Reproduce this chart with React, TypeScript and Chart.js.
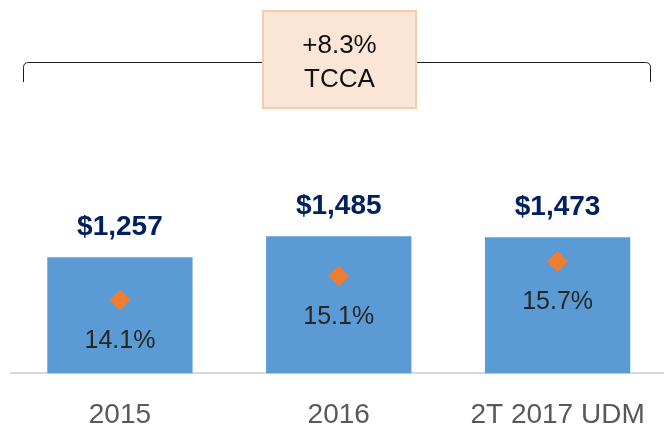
import React, { useEffect, useRef } from "react";
import { Chart, registerables } from "chart.js";

Chart.register(...registerables);

const categories = ["2015", "2016", "2T 2017 UDM"];
const revenue = [1257, 1485, 1473];
const margin = [14.1, 15.1, 15.7];
const revenueLabels = ["$1,257", "$1,485", "$1,473"];
const marginLabels = ["14.1%", "15.1%", "15.7%"];
const cagrLines = ["+8.3%", "TCCA"];

const FONT = "'Liberation Sans', Arial, sans-serif";

const overlayPlugin = {
  id: "overlay",
  afterDatasetsDraw(chart: any) {
    const ctx = chart.ctx as CanvasRenderingContext2D;
    const barMeta = chart.getDatasetMeta(0);
    const ptMeta = chart.getDatasetMeta(1);
    ctx.save();
    ctx.textAlign = "center";
    ctx.textBaseline = "middle";

    ctx.font = `bold 28px ${FONT}`;
    ctx.fillStyle = "#002060";
    barMeta.data.forEach((el: any, i: number) => {
      ctx.fillText(revenueLabels[i], el.x, el.y - 30);
    });

    ctx.font = `25px ${FONT}`;
    ctx.fillStyle = "#262626";
    ptMeta.data.forEach((el: any, i: number) => {
      ctx.fillText(marginLabels[i], el.x, el.y + 41);
    });

    // bracket
    const bl = 23.5, br = 650.5, by = 62.5, bb = 82, r = 5;
    ctx.strokeStyle = "#1a1a1a";
    ctx.lineWidth = 1;
    ctx.beginPath();
    ctx.moveTo(bl, bb);
    ctx.lineTo(bl, by + r);
    ctx.quadraticCurveTo(bl, by, bl + r, by);
    ctx.lineTo(br - r, by);
    ctx.quadraticCurveTo(br, by, br, by + r);
    ctx.lineTo(br, bb);
    ctx.stroke();

    // box
    const bx = 263, bw = 153, byy = 11, bh = 97;
    ctx.fillStyle = "#FBE5D6";
    ctx.fillRect(bx, byy, bw, bh);
    ctx.strokeStyle = "#F8CBAD";
    ctx.lineWidth = 2;
    ctx.strokeRect(bx, byy, bw, bh);
    ctx.fillStyle = "#111111";
    ctx.font = `26px ${FONT}`;
    ctx.fillText(cagrLines[0], bx + bw / 2, 46);
    ctx.fillText(cagrLines[1], bx + bw / 2, 80);
    ctx.restore();
  },
};

export default function App() {
  const ref = useRef<HTMLCanvasElement | null>(null);
  useEffect(() => {
    document.body.style.margin = "0";
    const chart = new Chart(ref.current as HTMLCanvasElement, {
      type: "bar",
      data: {
        labels: categories,
        datasets: [
          {
            type: "bar",
            data: revenue,
            backgroundColor: "#5B9BD5",
            borderWidth: 0,
            barPercentage: 0.664,
            categoryPercentage: 1,
            yAxisID: "y",
            order: 2,
          },
          {
            type: "line",
            data: margin,
            showLine: false,
            pointStyle: "rectRot",
            pointRadius: 10.5,
            pointBackgroundColor: "#ED7D31",
            pointBorderWidth: 0,
            yAxisID: "y2",
            order: 1,
          } as any,
        ],
      },
      options: {
        responsive: false,
        animation: false,
        layout: { padding: { left: 7, right: 13, top: 0, bottom: 0 } },
        plugins: { legend: { display: false }, tooltip: { enabled: false } },
        scales: {
          x: {
            grid: { display: false, drawTicks: false },
            border: { display: true, color: "#D9D9D9", width: 2 },
            ticks: {
              color: "#595959",
              font: { family: FONT, size: 28 },
              padding: 25,
              maxRotation: 0,
            },
          },
          y: { display: false, min: 0, max: 3928 },
          y2: { display: false, min: 11.07, max: 26.07 },
        },
      },
      plugins: [overlayPlugin],
    });
    return () => chart.destroy();
  }, []);
  return (
    <div style={{ position: "absolute", left: 0, top: 0, width: 664, height: 429, overflow: "hidden", background: "#fff" }}>
      <canvas ref={ref} width={680} height={457} style={{ width: 680, height: 457, display: "block" }} />
    </div>
  );
}
